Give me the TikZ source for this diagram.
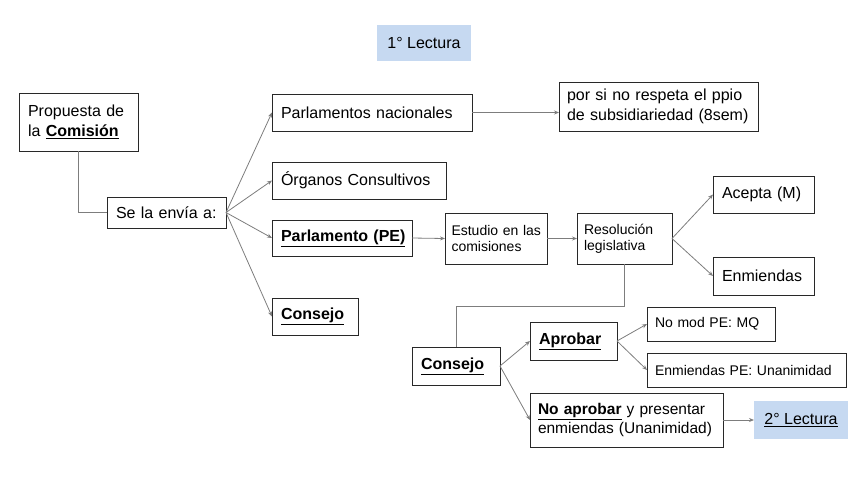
\documentclass[tikz,border=0pt]{standalone}
\usepackage{fontspec}
\setmainfont{Liberation Sans}
\usetikzlibrary{arrows.meta}
\definecolor{borde}{RGB}{40,40,40}
\definecolor{linea}{RGB}{125,125,125}
\definecolor{lectura}{RGB}{198,217,241}
\newcommand\grande{\fontsize{16}{20}\selectfont}
\newcommand\chica{\fontsize{14}{16}\selectfont}
\newcommand\subr[1]{\underline{\textbf{#1}}}
\begin{document}
\begin{tikzpicture}[x=1pt,y=-1pt,
	caja/.style={draw=borde,line width=1pt,anchor=north west,inner xsep=9pt,inner ysep=0pt,outer sep=0pt,align=left,font=\grande},
	fase/.style={fill=lectura,anchor=north west,inner sep=0pt,outer sep=0pt,align=center,font=\grande},
	flecha/.style={draw=linea,line width=.8pt,-{Stealth[length=5pt,width=4pt]}},
	tramo/.style={draw=linea,line width=.8pt}]
	\useasboundingbox (0,0) rectangle (848,477);
	\path
	(377,25) node[fase,minimum width=94,minimum height=36] (lect1) {1° Lectura}
	(19,93) node[caja,text width=101,minimum height=58] (prop) {Propuesta de\\la \subr{Comisión}}
	(107,197) node[caja,text width=101,minimum height=31] (envia) {Se la envía a:}
	(272,94) node[caja,text width=182,minimum height=37] (parlnac) {Parlamentos nacionales}
	(272,162) node[caja,text width=156,minimum height=37] (organos) {Órganos Consultivos}
	(272,220) node[caja,text width=122,minimum height=36] (parlpe) {\subr{Parlamento (PE)}}
	(272,298) node[caja,text width=68,minimum height=37] (consejo) {\subr{Consejo}}
	(559,82) node[caja,inner xsep=8pt,text width=183,minimum height=49] (subsid) {por si no respeta el ppio\\de subsidiariedad (8sem)}
	(445,213) node[caja,font=\chica,inner xsep=6.5pt,text width=89,minimum height=51] (estudio) {\mbox{Estudio en las}\\comisiones}
	(577,213) node[caja,font=\chica,inner xsep=7pt,text width=81,minimum height=51] (resol) {Resolución\\legislativa}
	(713,176) node[caja,text width=83,minimum height=37] (acepta) {Acepta (M)}
	(713,257) node[caja,text width=83,minimum height=38] (enm) {Enmiendas}
	(412,347) node[caja,text width=70,minimum height=38] (consejob) {\subr{Consejo}}
	(530,322) node[caja,text width=69,minimum height=38] (aprobar) {\subr{Aprobar}}
	(647,307) node[caja,font=\chica,inner xsep=8pt,text width=112,minimum height=34] (nomod) {No mod PE: MQ}
	(647,353) node[caja,font=\chica,inner xsep=8pt,text width=183,minimum height=34] (enmpe) {Enmiendas PE: Unanimidad}
	(530,393) node[caja,font=\fontsize{15.5}{19.5}\selectfont,inner xsep=8pt,text width=177,minimum height=54] (noapr) {\mbox{\subr{No aprobar} y presentar}\\\mbox{enmiendas (Unanimidad)}}
	(754,401) node[fase,minimum width=94,minimum height=38] (lect2) {\underline{2° Lectura}};
	\draw[tramo] (prop.south) |- (envia.west);
	\draw[tramo] (resol.south) -- ++(0,42) -| (consejob.north);
	\draw[flecha] (parlnac.east) -- (parlnac.east -| subsid.west);
	\foreach \de/\a in {envia/parlnac,envia/organos,envia/parlpe,envia/consejo,parlpe/estudio,estudio/resol,resol/acepta,resol/enm,consejob/aprobar,consejob/noapr,aprobar/nomod,aprobar/enmpe,noapr/lect2}
	\draw[flecha] (\de.east) -- (\a.west);
\end{tikzpicture}
\end{document}
